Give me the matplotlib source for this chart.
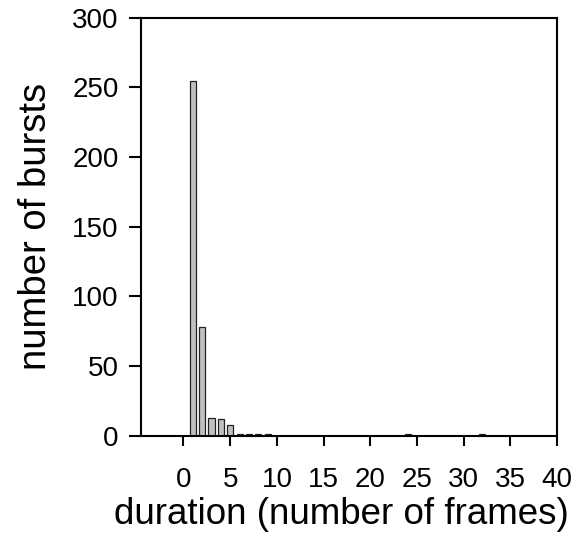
import matplotlib
matplotlib.use("Agg")
import matplotlib.pyplot as plt

# burst durations (frames) and counts
durations = [1, 2, 3, 4, 5, 6, 7, 8, 9, 24, 32]
counts = [255, 78, 13, 12, 8, 1, 1, 1, 1, 1, 1]

x_ticks = [0, 5, 10, 15, 20, 25, 30, 35, 40]
y_ticks = [0, 50, 100, 150, 200, 250, 300]

plt.rcParams["font.family"] = ["Liberation Sans", "DejaVu Sans"]

fig = plt.figure(figsize=(5.75, 5.4), dpi=100)
ax = fig.add_axes([0.246, 0.193, 0.723, 0.774])

ax.bar(durations, counts, width=0.65, color="#c0c0c0",
       edgecolor="#222222", linewidth=0.9)

ax.set_xlim(-4.5, 40)
ax.set_ylim(0, 300)
ax.set_xticks(x_ticks)
ax.set_yticks(y_ticks)
ax.tick_params(direction="out", width=1.5, labelsize=20)
ax.tick_params(axis="x", length=7.5, pad=15)
ax.tick_params(axis="y", length=8.5, pad=8)

for side in ax.spines.values():
    side.set_linewidth(1.5)

ax.set_xlabel("duration (number of frames)", fontsize=26.5, labelpad=3)
ax.xaxis.label.set_x(0.482)
ax.set_ylabel("number of bursts", fontsize=27.5, labelpad=13)

fig.savefig("out.png", dpi=100)
